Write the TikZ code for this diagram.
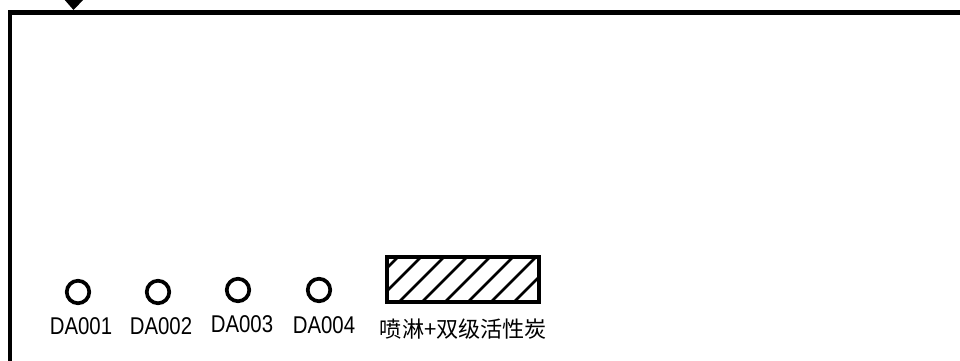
\documentclass[tikz,border=0pt]{standalone}
\usepackage{fontspec}
\newfontfamily\labelfont[FakeStretch=0.84]{Liberation Sans}
\newfontfamily\cjkfont{Noto Sans CJK SC}
\tikzset{
  stack/.style={draw, circle, line width=0.037cm, minimum size=0.225cm, inner sep=0pt},
  stacklabel/.style={inner sep=0pt, font=\labelfont\fontsize{6.9pt}{8pt}\selectfont},
  arealabel/.style={inner sep=0pt, font=\cjkfont\fontsize{6.3pt}{8pt}\selectfont}
}
\begin{document}
\begin{tikzpicture}
      \useasboundingbox (0,0) rectangle (9.6,3.61);
      \coordinate (R) at (9.7,3.485);
      \coordinate (C) at (0.1,3.485);
      \coordinate (L) at (0.1,-0.1);
      % boundary
      \draw [line width=0.045cm, line join=miter] (R) -- (C) -- (L);
      \fill (0.63,3.63) -- (0.85,3.63) -- (0.735,3.51) -- cycle;
      % outlets
      \foreach \name/\cx/\cy/\lx/\ly in {DA001/0.78/0.69/0.81/0.345, DA002/1.58/0.69/1.61/0.345,
          DA003/2.38/0.71/2.42/0.365, DA004/3.19/0.71/3.24/0.36}{
        \node [stack] (\name) at (\cx,\cy) {};
        \node [stacklabel] (label\name) at (\lx,\ly) {\name};
      }
      % treatment unit
      \coordinate (A) at (3.875,0.59);
      \coordinate (B) at (5.39,1.04);
      \begin{scope}
        \clip (A) rectangle (B);
        \foreach \x in {3.30,3.53,...,5.40}{
          \draw [line width=0.028cm] (\x,0.59) -- ++(0.45,0.45);
        }
      \end{scope}
      \draw [line width=0.04cm] (A) rectangle (B);
      \node [arealabel] (unitlabel) at (4.635,0.32) {喷淋+双级活性炭};
    \end{tikzpicture}
\end{document}
